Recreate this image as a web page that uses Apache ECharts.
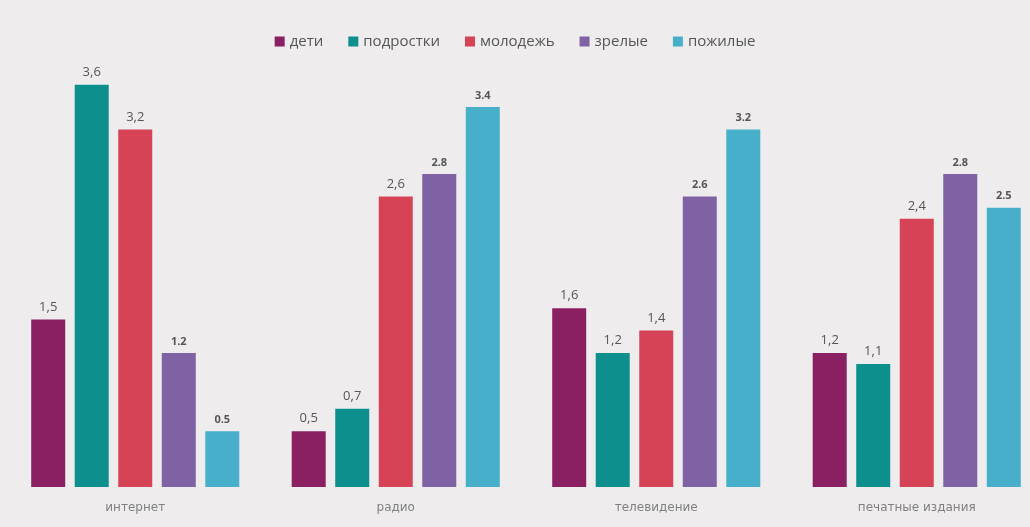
<!DOCTYPE html>
<html><head><meta charset="utf-8">
<script src="https://cdn.jsdelivr.net/npm/echarts@6/dist/echarts.min.js"></script>
<style>html,body{margin:0;padding:0;background:#efecee;}#c{width:1030px;height:527px;}</style>
</head><body><div id="c"></div>
<script>
const categories = ['интернет', 'радио', 'телевидение', 'печатные издания'];
const seriesNames = ['дети', 'подростки', 'молодежь', 'зрелые', 'пожилые'];
const deti = [1.5, 0.5, 1.6, 1.2];
const podrostki = [3.6, 0.7, 1.2, 1.1];
const molodezh = [3.2, 2.6, 1.4, 2.4];
const zrelye = [1.2, 2.8, 2.6, 2.8];
const pozhilye = [0.5, 3.4, 3.2, 2.5];

const values = [deti, podrostki, molodezh, zrelye, pozhilye];
const colors = ['#8a1f62', '#0d8f8e', '#d74356', '#7e62a4', '#47afc9'];
const chart = echarts.init(document.getElementById('c'));
chart.setOption({
  backgroundColor: '#efecee',
  color: colors,
  textStyle: { fontFamily: 'Open Sans' },
  legend: {
    top: 29, left: 'center', itemWidth: 10, itemHeight: 10, itemGap: 25,
    icon: 'rect',
    textStyle: { fontSize: 15, color: '#555', fontFamily: 'Open Sans' },
    data: seriesNames
  },
  grid: { left: 5, width: 1042, top: 40, bottom: 40, outerBoundsMode: 'none', containLabel: false },
  xAxis: {
    type: 'category', data: categories,
    axisLine: { show: false }, axisTick: { show: false },
    axisLabel: { color: '#808080', fontSize: 12, margin: 15, fontFamily: 'DejaVu Sans' }
  },
  yAxis: { type: 'value', min: 0, max: 4, show: false, splitLine: { show: false } },
  series: values.map((v, i) => ({
    name: seriesNames[i], type: 'bar', data: v,
    barWidth: 34, barGap: '28%',
    label: {
      show: true, position: 'top', distance: 6,
      color: '#555', fontSize: i >= 3 ? 11 : 13, fontWeight: i >= 3 ? 'bold' : 'normal',
      formatter: p => i >= 3 ? String(p.value) : String(p.value).replace('.', ',')
    }
  }))
});
</script></body></html>
